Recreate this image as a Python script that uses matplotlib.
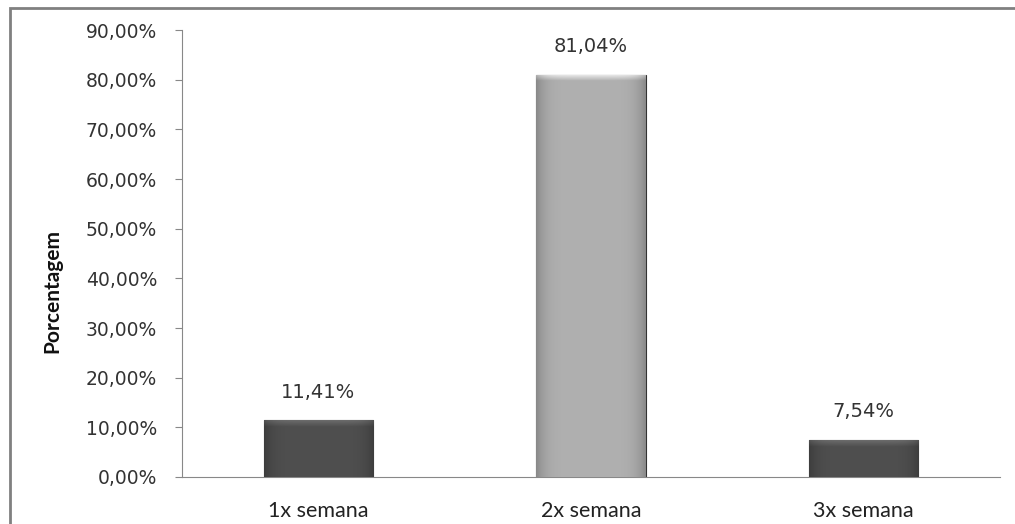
import numpy as np
import matplotlib.pyplot as plt
from matplotlib.colors import to_rgb
from matplotlib.patches import Rectangle

categories = ["1x semana", "2x semana", "3x semana"]
values = [11.41, 81.04, 7.54]
labels = ["11,41%", "81,04%", "7,54%"]
bar_colors = ["#4f4f4f", "#b0b0b0", "#4f4f4f"]
yticks = np.arange(0, 100, 10)

fig = plt.figure(figsize=(10.15, 5.24), dpi=100)
ax = fig.add_axes([0.1793, 0.0897, 0.8059, 0.853])

x = np.arange(len(categories))
bars = ax.bar(x, values, width=0.4, color=bar_colors, edgecolor="#333333", linewidth=0.8, zorder=2)


def shade(bar, base):
    # soft horizontal gradient plus a light bevel along the top
    rgb = np.array(to_rgb(base))
    t = np.linspace(-1, 1, 100)
    k = 1.0 - 0.22 * np.abs(t) ** 6
    row = np.clip(rgb[None, :] * k[:, None], 0, 1)
    body = row[None, :, :]
    x0, y0 = bar.get_x(), bar.get_y()
    w, h = bar.get_width(), bar.get_height()
    im = ax.imshow(body, extent=[x0, x0 + w, y0, y0 + h], origin="lower",
                   aspect="auto", zorder=3, interpolation="bilinear")
    im.set_clip_path(bar)
    s = 1.4
    f = np.linspace(1.0, 1.35, 8)[:, None, None]
    top = np.clip(body * f, 0, 1)
    im2 = ax.imshow(top, extent=[x0, x0 + w, y0 + h - s, y0 + h], origin="lower",
                    aspect="auto", zorder=3, interpolation="bilinear")
    im2.set_clip_path(bar)


for b, c in zip(bars, bar_colors):
    shade(b, c)

for xi, v, lab in zip(x, values, labels):
    ax.text(xi, v + 5.6, lab, ha="center", va="center", fontsize=14,
            family="DejaVu Sans", color="#333333")

ax.set_xlim(-0.5, 2.5)
ax.set_ylim(0, 90)
ax.set_yticks(yticks)
ax.set_yticklabels([f"{t:.2f}%".replace(".", ",") for t in yticks],
                   fontsize=13.5, color="#333333")
ax.set_xticks(x)
ax.set_xticklabels(categories, fontsize=15.5, family="Lato", color="#222222")
ax.tick_params(axis="x", length=0, pad=17)
ax.tick_params(axis="y", length=5, color="#888888", pad=13)

for s in ["top", "right"]:
    ax.spines[s].set_visible(False)
ax.spines["left"].set_color("#888888")
ax.spines["bottom"].set_color("#888888")

fig.text(0.052, 0.445, "Porcentagem", rotation=90, ha="center", va="center",
         fontsize=15, family="Lato", fontweight="bold", color="#111111")

fig.patches.append(Rectangle((10 / 1015, -0.05), 1.2, 1 - 8 / 524 + 0.05,
                             transform=fig.transFigure, fill=False,
                             edgecolor="#808080", linewidth=2))

fig.savefig("out.png", dpi=100)
